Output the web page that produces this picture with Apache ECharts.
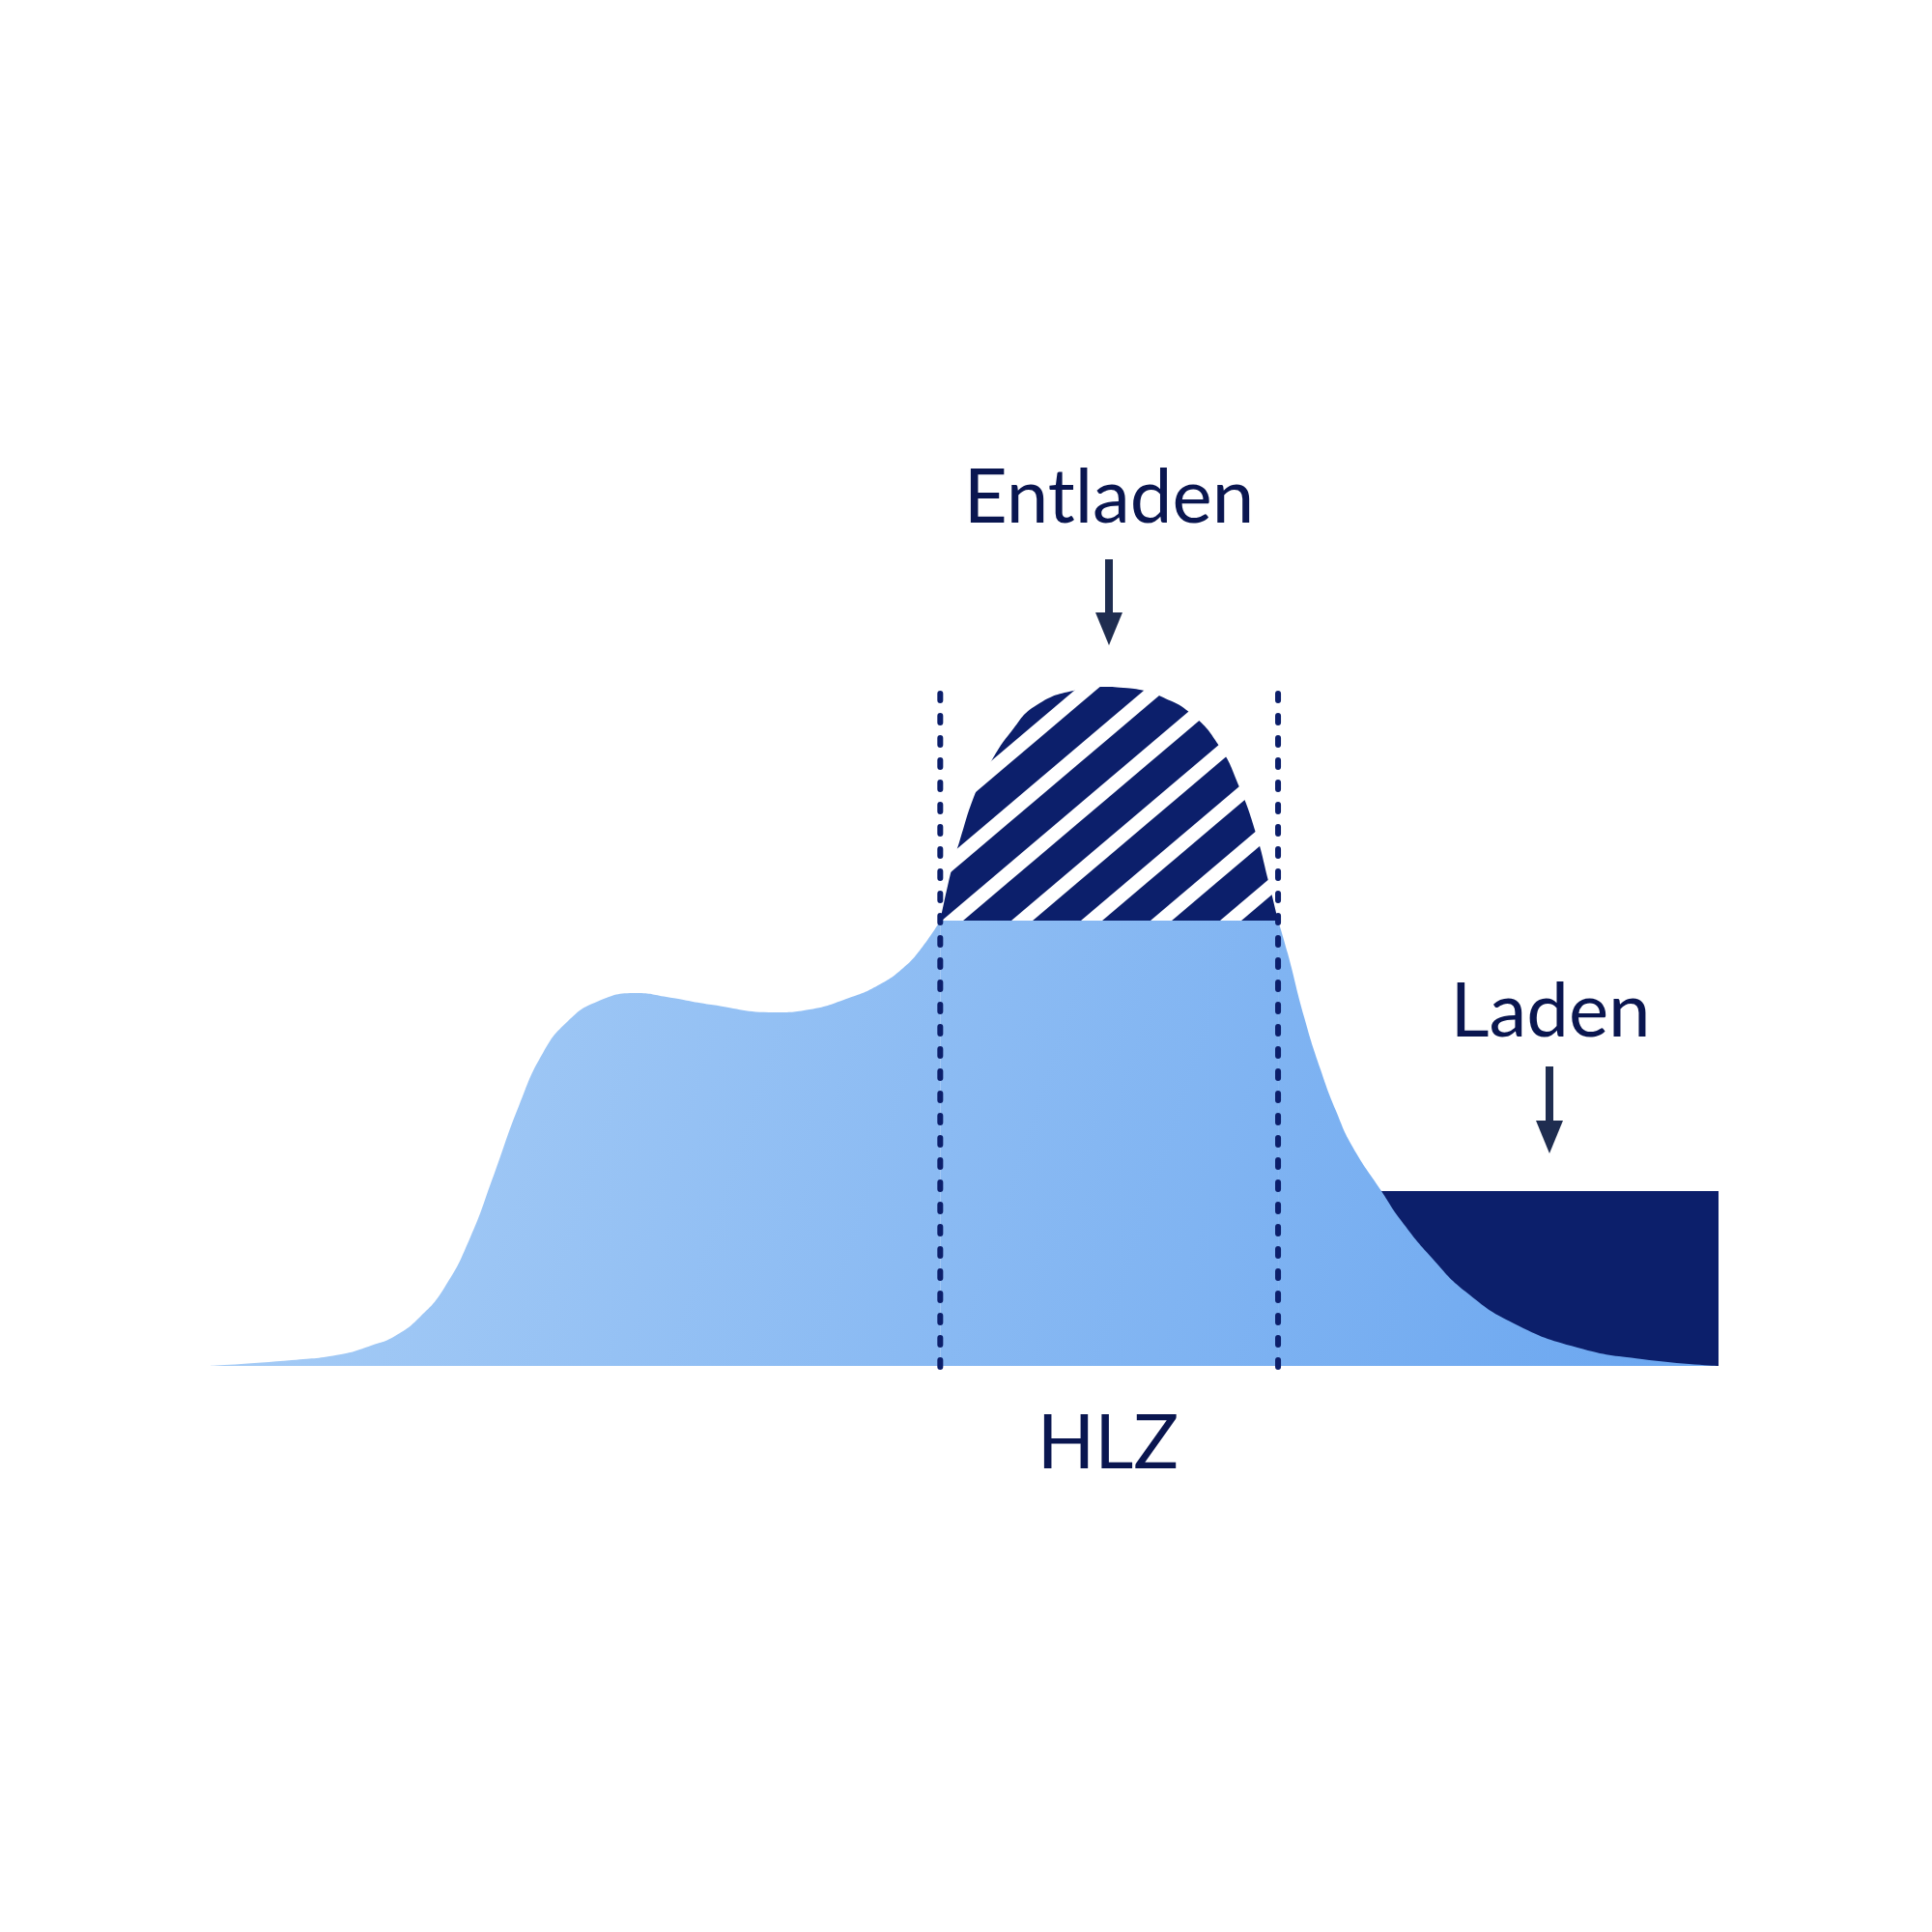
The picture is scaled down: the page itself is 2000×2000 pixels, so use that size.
<!DOCTYPE html>
<html><head><meta charset="utf-8">
<script src="https://cdn.jsdelivr.net/npm/echarts@6/dist/echarts.min.js"></script>
<style>html,body{margin:0;padding:0;background:#fff}#c{width:2000px;height:2000px}</style>
</head><body><div id="c"></div>
<script>
// ---- data (x: time 0..100, y: load 0..100) ----
const leftCurve = [[0,0],[5.44,0.85],[8.71,1.71],[10.69,2.99],[12.29,4.41],[13.96,7.25],[15.56,11.52],[17.22,18.63],[18.82,28.02],[20.49,38.26],[22.09,46.09],[23.75,50.78],[25.67,53.63],[28.3,54.91],[30.28,54.34],[33.23,53.2],[37.45,52.06],[39.76,52.49],[42.38,54.2],[44.3,56.05],[45.97,58.61],[47.25,61.74],[48.42,65.58]];
const peakCurve = [[48.42,65.58],[49.17,73.12],[49.68,77.1],[50.77,84.5],[51.73,88.76],[53.14,93.46],[54.8,97.3],[57.49,99.57],[59.09,100],[60.56,99.86],[61.97,99.43],[63.06,98.58],[64.98,96.16],[66.9,91.32],[68.25,85.21],[69.33,78.52],[70.17,71.41],[70.81,65.58]];
const rightCurve = [[70.81,65.58],[71.45,60.74],[72.54,51.35],[73.62,43.67],[74.65,37.55],[75.74,32.29],[77.66,25.75],[78.94,21.48],[81.05,15.79],[83.23,10.95],[86.43,6.26],[90.65,2.7],[94.94,1.0],[100,0]];
const capLevel = 65.58;
const hlzWindow = [48.42, 70.81];
const hlzLineRange = [-0.3, 99.0];
const ladenLevel = 25.75;
const ladenRange = [76, 100];
const labelTexts = ['Entladen', 'Laden', 'HLZ'];

const NAVY = '#0c1f6b', TEXT = '#0a1650', ARROW = '#1f2d50';
const FONT = '78px Lato';

function stripePattern(){
  const P = 72, H = 61, c = 11.85, w = 22;
  const cv = document.createElement('canvas'); cv.width = P; cv.height = H;
  const g = cv.getContext('2d');
  g.fillStyle = NAVY; g.fillRect(0,0,P,H);
  g.fillStyle = '#ffffff';
  for (let k = -1; k <= 2; k++) {
    g.beginPath();
    g.moveTo(c + P*k, 0); g.lineTo(c + w + P*k, 0);
    g.lineTo(c + w + P*(k-1), H); g.lineTo(c + P*(k-1), H);
    g.closePath(); g.fill();
  }
  return cv;
}

const grad = {type:'linear', x:217, y:900, x2:1779, y2:1414, global:true,
  colorStops:[{offset:0,color:'#abcff6'},{offset:1,color:'#6aa6f0'}]};
const hatch = {image:stripePattern(), repeat:'repeat'};

const chart = echarts.init(document.getElementById('c'), null, {renderer:'canvas'});
const noLine = {width:0, opacity:0};
const dashStyle = {color:NAVY, width:6, type:[7,16], cap:'round'};
chart.setOption({
  animation:false,
  backgroundColor:'#ffffff',
  grid:{left:217, right:221, top:711, bottom:586},
  xAxis:{type:'value', min:0, max:100, show:false},
  yAxis:{type:'value', min:0, max:100, show:false},
  series:[
    {type:'line', z:1, symbol:'none', lineStyle:noLine, silent:true,
     data:[[ladenRange[0],ladenLevel],[ladenRange[1],ladenLevel]],
     areaStyle:{color:NAVY, opacity:1}},
    {type:'line', z:2, symbol:'none', smooth:0.5, lineStyle:noLine, silent:true, data:leftCurve, areaStyle:{color:grad, opacity:1}},
    {type:'line', z:2, symbol:'none', lineStyle:noLine, silent:true,
     data:[[hlzWindow[0],capLevel],[hlzWindow[1],capLevel]], areaStyle:{color:grad, opacity:1}},
    {type:'line', z:2, symbol:'none', smooth:0.5, lineStyle:noLine, silent:true, data:rightCurve, areaStyle:{color:grad, opacity:1}},
    {type:'line', z:3, symbol:'none', smooth:0.5, lineStyle:noLine, silent:true, data:peakCurve,
     areaStyle:{color:hatch, opacity:1, origin:capLevel}},
    {type:'line', z:5, symbol:'none', clip:false, silent:true,
     data:[[hlzWindow[0],hlzLineRange[1]],[hlzWindow[0],hlzLineRange[0]]], lineStyle:dashStyle},
    {type:'line', z:5, symbol:'none', clip:false, silent:true,
     data:[[hlzWindow[1],hlzLineRange[1]],[hlzWindow[1],hlzLineRange[0]]], lineStyle:dashStyle}
  ],
  graphic:[
    {type:'text', x:1148, y:516, style:{text:labelTexts[0], fill:TEXT, font:FONT, align:'center', verticalAlign:'middle'}},
    {type:'rect', shape:{x:1144, y:579, width:8, height:58}, style:{fill:ARROW}},
    {type:'polygon', shape:{points:[[1134,634],[1162,634],[1148,668]]}, style:{fill:ARROW}},
    {type:'text', x:1605, y:1048, style:{text:labelTexts[1], fill:TEXT, font:FONT, align:'center', verticalAlign:'middle'}},
    {type:'rect', shape:{x:1600, y:1104, width:8, height:59}, style:{fill:ARROW}},
    {type:'polygon', shape:{points:[[1590,1160],[1618,1160],[1604,1194]]}, style:{fill:ARROW}},
    {type:'text', x:1147, y:1495, style:{text:labelTexts[2], fill:TEXT, font:FONT, align:'center', verticalAlign:'middle'}}
  ]
});
</script></body></html>
